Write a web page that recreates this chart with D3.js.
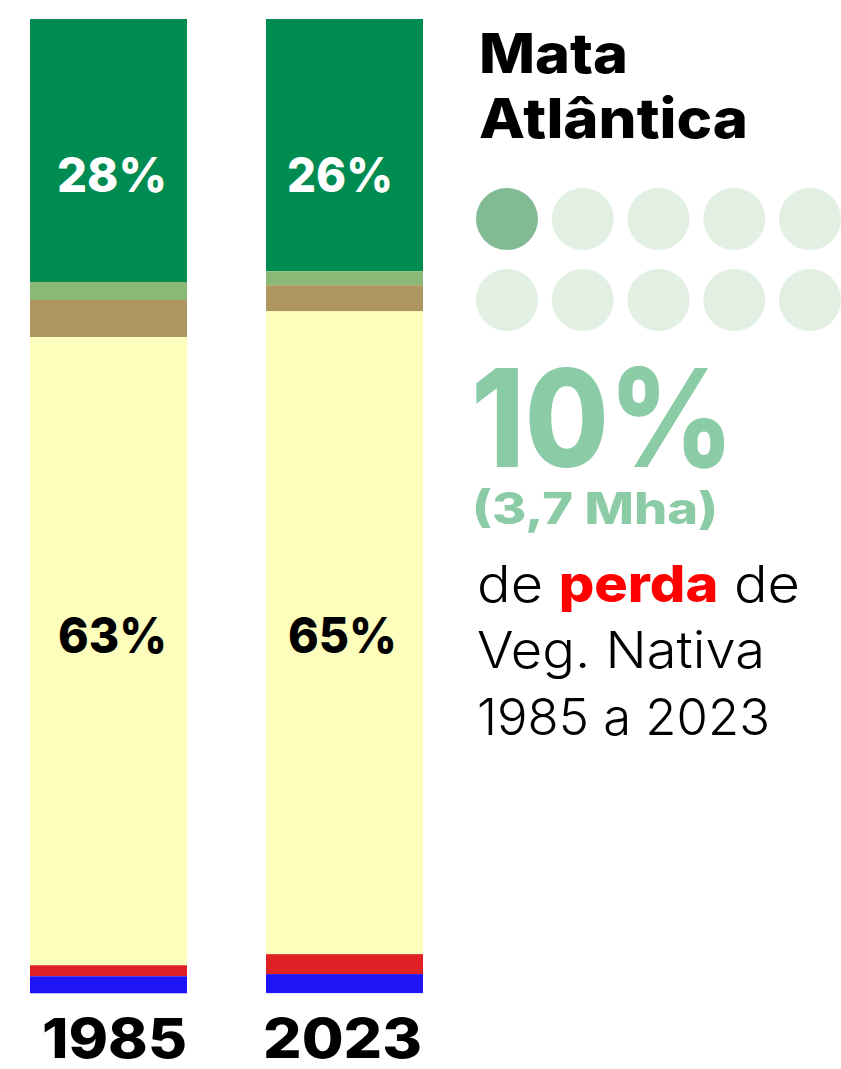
<!DOCTYPE html>
<html>
<head>
<meta charset="utf-8">
<script src="https://cdn.jsdelivr.net/npm/d3@7"></script>
<style>
  body { margin: 0; background: #fff; }
  svg text { font-family: Inter, "Open Sans", sans-serif; }
</style>
</head>
<body>
<script>
// data (shares of area)
var years = ["1985", "2023"];
var classes = ["Floresta", "Formação natural não florestal", "Pastagem", "Agropecuária", "Área não vegetada", "Água"];
var colors = ["#008b50", "#8ab877", "#ae9660", "#fdfebc", "#df2125", "#1f14f5"];
var share1985 = [27.0, 1.85, 3.8, 64.5, 1.13, 1.75];
var share2023 = [25.9, 1.44, 2.67, 66.0, 2.05, 1.95];
var forestLabels = ["28%", "26%"];
var agroLabels = ["63%", "65%"];
var lossPct = 10;
var lossText = "10%";
var lossArea = "(3,7 Mha)";

var W = 841, H = 1069;

var svg = d3.select("body").append("svg")
  .attr("width", W)
  .attr("height", H);

var rows = years.map(function (yr, i) {
  var vals = i == 0 ? share1985 : share2023;
  var o = { year: yr };
  classes.forEach(function (c, j) { o[c] = vals[j]; });
  return o;
});

var stack = d3.stack().keys(classes);
var series = stack(rows);

var x = d3.scaleBand().domain(years).range([30, 423]).paddingInner(79 / 236).paddingOuter(0);
var y = d3.scaleLinear().domain([0, 100]).range([19, 993]);
var color = d3.scaleOrdinal().domain(classes).range(colors);

svg.append("g").selectAll("g")
  .data(series)
  .join("g")
  .attr("fill", function (d) { return color(d.key); })
  .selectAll("rect")
  .data(function (d) { return d; })
  .join("rect")
  .attr("x", function (d) { return x(d.data.year); })
  .attr("y", function (d) { return y(d[0]); })
  .attr("width", x.bandwidth())
  .attr("height", function (d) { return y(d[1]) - y(d[0]); });

// labels inside the bars (small per-bar nudge to match the optical centring)
var nudge = [27, 21];
var lab = svg.append("g").attr("font-weight", 800);
lab.selectAll(".fl").data(years).join("text")
  .attr("class", "fl")
  .attr("x", function (d, i) { return x(d) + nudge[i]; })
  .attr("y", 192)
  .attr("font-size", 48)
  .attr("fill", "#fff")
  .attr("textLength", function (d, i) { return i ? 106 : 110; }).attr("lengthAdjust", "spacingAndGlyphs")
  .text(function (d, i) { return forestLabels[i]; });
lab.selectAll(".ag").data(years).join("text")
  .attr("class", "ag")
  .attr("x", function (d, i) { return x(d) + nudge[i] + 1; })
  .attr("y", 653)
  .attr("font-size", 49)
  .attr("fill", "#000")
  .attr("textLength", 109).attr("lengthAdjust", "spacingAndGlyphs")
  .text(function (d, i) { return agroLabels[i]; });

// year axis labels
var yearW = [145, 159];
var yearOff = [12, -3];
lab.selectAll(".yr").data(years).join("text")
  .attr("class", "yr")
  .attr("x", function (d, i) { return x(d) + yearOff[i]; })
  .attr("y", 1058)
  .attr("font-size", 55)
  .attr("fill", "#000")
  .attr("textLength", function (d, i) { return yearW[i]; }).attr("lengthAdjust", "spacingAndGlyphs")
  .text(function (d) { return d; });

// title
var side = svg.append("g").attr("font-weight", 800);
side.append("text").attr("x", 479).attr("y", 73).attr("font-size", 55)
  .attr("textLength", 149).attr("lengthAdjust", "spacingAndGlyphs").text("Mata");
side.append("text").attr("x", 479).attr("y", 138).attr("font-size", 55)
  .attr("textLength", 269).attr("lengthAdjust", "spacingAndGlyphs").text("Atlântica");

// dot grid: one dot per 10%
var dots = d3.range(10);
var dx = d3.scalePoint().domain(d3.range(5)).range([507, 810]);
var dy = d3.scalePoint().domain([0, 1]).range([219, 300]);
svg.append("g").selectAll("circle")
  .data(dots)
  .join("circle")
  .attr("cx", function (d) { return dx(d % 5); })
  .attr("cy", function (d) { return dy(Math.floor(d / 5)); })
  .attr("r", 31)
  .attr("fill", function (d) { return d < lossPct / 10 ? "#82ba94" : "#e1f0e3"; });

// big number
side.append("text").attr("x", 471).attr("y", 467).attr("font-size", 136)
  .attr("fill", "#8bcba5")
  .attr("textLength", 263).attr("lengthAdjust", "spacingAndGlyphs").text(lossText);
side.append("text").attr("x", 472).attr("y", 524).attr("font-size", 44)
  .attr("fill", "#8bcba5")
  .attr("textLength", 246).attr("lengthAdjust", "spacingAndGlyphs").text(lossArea);

var body = svg.append("g").attr("font-weight", 300).attr("font-size", 51).attr("fill", "#000");
var l1 = body.append("text").attr("x", 477).attr("y", 602)
  .attr("textLength", 323).attr("lengthAdjust", "spacingAndGlyphs");
l1.append("tspan").text("de ");
l1.append("tspan").attr("fill", "#ff0000").attr("font-weight", 800).text("perda");
l1.append("tspan").text(" de");
body.append("text").attr("x", 477).attr("y", 668)
  .attr("textLength", 288).attr("lengthAdjust", "spacingAndGlyphs").text("Veg. Nativa");
body.append("text").attr("x", 477).attr("y", 735)
  .attr("textLength", 293).attr("lengthAdjust", "spacingAndGlyphs").text("1985 a 2023");
</script>
</body>
</html>
